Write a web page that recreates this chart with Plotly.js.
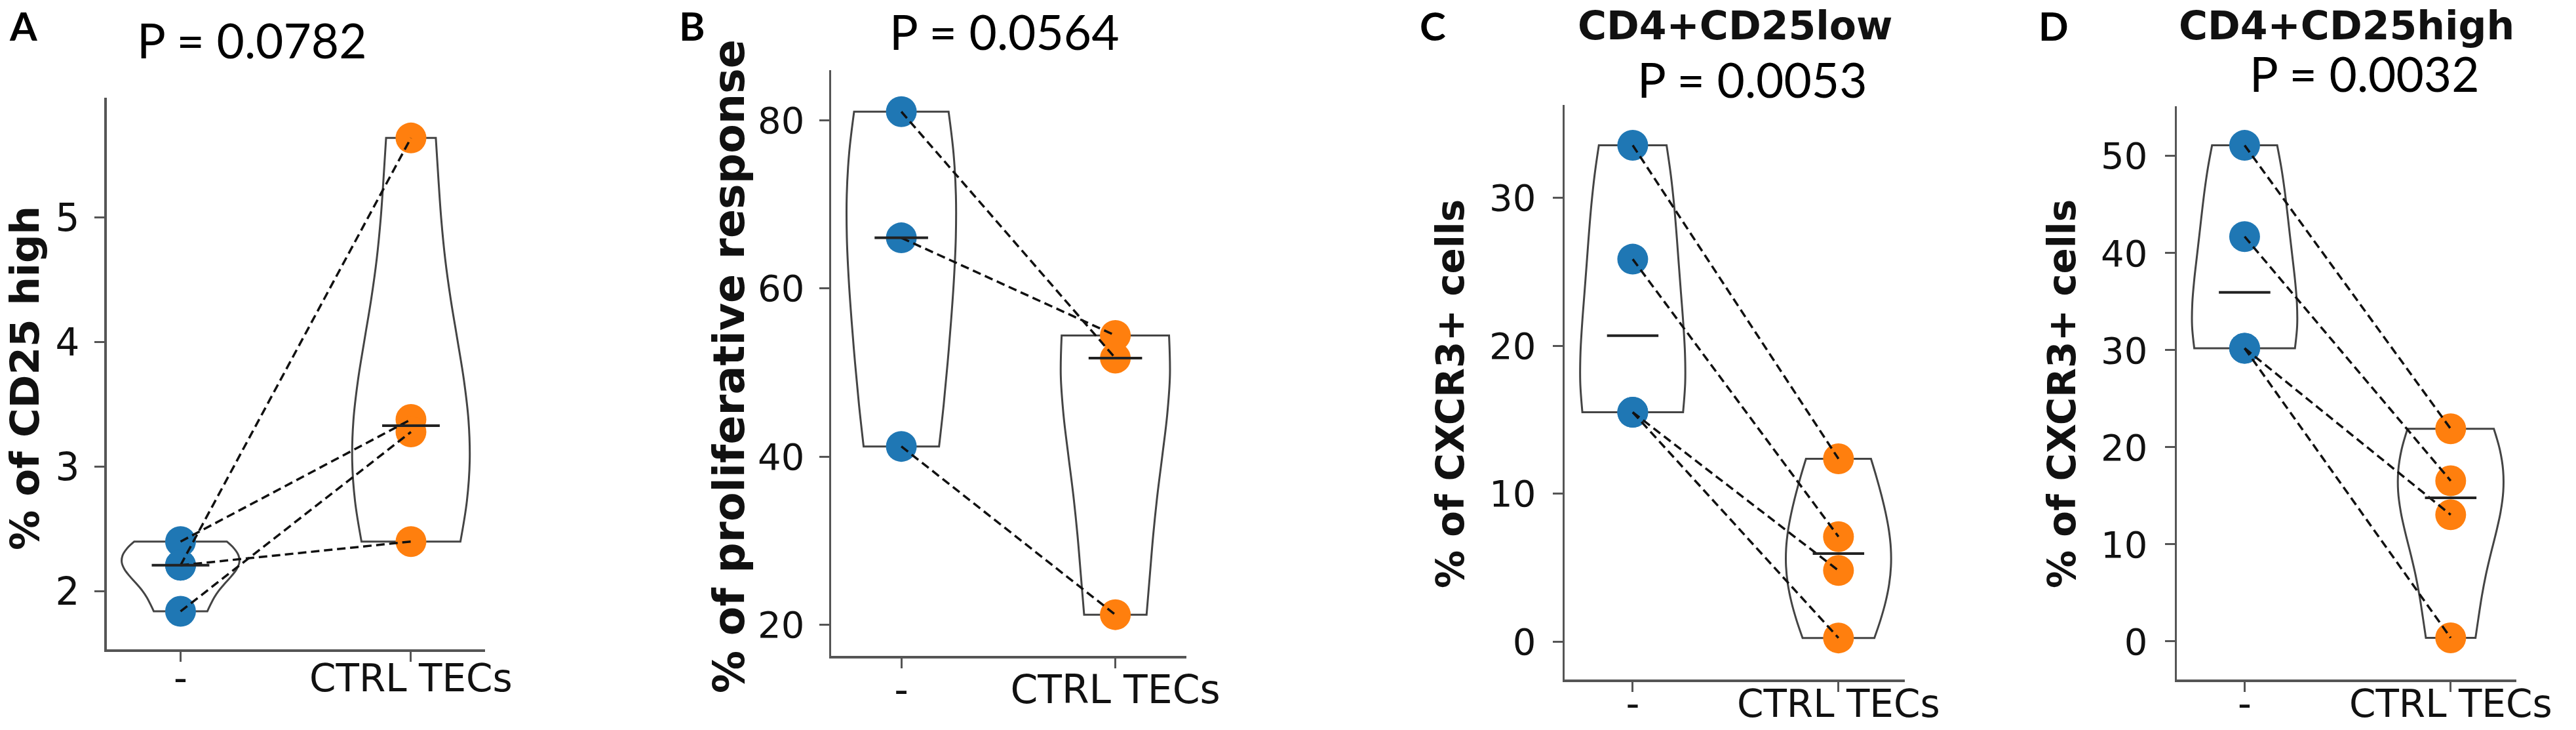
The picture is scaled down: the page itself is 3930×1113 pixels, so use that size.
<!DOCTYPE html>
<html>
<head>
<meta charset="utf-8">
<script src="https://cdn.plot.ly/plotly-3.0.1.min.js"></script>
<style>
html, body { margin: 0; padding: 0; background: #ffffff; }
#chart { width: 3930px; height: 1113px; }
</style>
</head>
<body>
<div id="chart"></div>
<script>
// ---------------- data ----------------
const categories = ["-", "CTRL TECs"];
const panelLetters = ["A", "B", "C", "D"];
const pValueLabels = ["P = 0.0782", "P = 0.0564", "P = 0.0053", "P = 0.0032"];
const subsetTitles = ["", "", "CD4+CD25low", "CD4+CD25high"];
const yAxisTitles = ["% of CD25 high", "% of proliferative response", "% of CXCR3+ cells", "% of CXCR3+ cells"];
const yTickSteps = [1, 20, 10, 10];

// paired values (index i of "-" is paired with index i of "CTRL TECs")
const noneA = [2.40, 2.21, 2.21, 1.84];
const tecsA = [3.38, 5.64, 2.40, 3.28];

const noneB = [81.0, 66.0, 41.2];
const tecsB = [51.7, 54.4, 21.2];

const noneC = [33.55, 25.85, 15.5, 15.5];
const tecsC = [12.35, 7.09, 4.8, 0.24];

const noneD = [51.1, 41.7, 30.2, 30.2];
const tecsD = [21.9, 16.55, 13.05, 0.37];

const panelsData = [[noneA, tecsA], [noneB, tecsB], [noneC, tecsC], [noneD, tecsD]];

// ---------------- style / layout ----------------
const W = 3930, H = 1113;
const boxes = [
  { l: 162.6, r: 739.8,  t: 149,   b: 990,  xr: [-0.321, 1.321], yr: [1.535, 5.963] },
  { l: 1268,  r: 1810,   t: 106.5, b: 1000, xr: [-0.328, 1.332], yr: [16.3, 85.97] },
  { l: 2387,  r: 2905.6, t: 159.7, b: 1036, xr: [-0.331, 1.321], yr: [-2.57, 36.29] },
  { l: 3321,  r: 3838.8, t: 161.8, b: 1036, xr: [-0.329, 1.318], yr: [-3.92, 55.14] }
];
const letterPos = [[35, 39], [1056, 39], [2186, 39], [3133, 39]];
const pPos = [[384, 61], [1532, 48], [2673, 121], [3607, 112]];
const subPos = [[0, 0], [0, 0], [2647, 39], [3580, 39]];
const yTitlePos = [[37, 577], [1112, 559], [2213, 601], [3146, 601]];
const yTitleSize = [61, 65, 58, 58];
const xTickSize = [58, 60, 58, 58];
const yTickSize = [58, 56, 56, 56];
const xLabelStandoff = [-24, -19, -31, -31];
const yLabelStandoff = [11, 11, 14, 15];

const BLUE = "#1f77b4", ORANGE = "#ff7f0e";
const groupColors = [BLUE, ORANGE];
const AXIS_COLOR = "#555555";

function scottBandwidth(arr) {
  const n = arr.length;
  const m = arr.reduce((a, b) => a + b, 0) / n;
  const v = arr.reduce((a, b) => a + (b - m) * (b - m), 0) / (n - 1);
  return Math.pow(n, -0.2) * Math.sqrt(v);
}
function median(arr) {
  const s = arr.slice().sort((a, b) => a - b);
  const k = Math.floor(s.length / 2);
  return s.length % 2 ? s[k] : (s[k - 1] + s[k]) / 2;
}

const traces = [];
const layout = {
  width: W, height: H,
  margin: { l: 0, r: 0, t: 0, b: 0 },
  paper_bgcolor: "#ffffff", plot_bgcolor: "#ffffff",
  showlegend: false,
  font: { family: "DejaVu Sans", color: "#111111" },
  annotations: []
};

panelsData.forEach((groups, i) => {
  const ax = i === 0 ? "" : String(i + 1);
  const xa = "x" + ax, ya = "y" + ax;
  const bx = boxes[i];

  // violins
  groups.forEach((vals, g) => {
    traces.push({
      type: "violin", x0: g, y: vals, xaxis: xa, yaxis: ya,
      width: 0.51, spanmode: "hard", bandwidth: scottBandwidth(vals),
      points: false, box: { visible: false }, meanline: { visible: false },
      line: { color: "#444444", width: 3 }, fillcolor: "rgba(255,255,255,0)",
      hoverinfo: "skip"
    });
  });
  // points
  groups.forEach((vals, g) => {
    traces.push({
      type: "scatter", mode: "markers", xaxis: xa, yaxis: ya,
      x: vals.map(() => g), y: vals,
      marker: { color: groupColors[g], size: 47, line: { width: 0 } },
      hoverinfo: "skip"
    });
  });
  // paired dashed lines
  const lx = [], ly = [];
  groups[0].forEach((v, k) => { lx.push(0, 1, null); ly.push(v, groups[1][k], null); });
  traces.push({
    type: "scatter", mode: "lines", xaxis: xa, yaxis: ya, x: lx, y: ly,
    line: { color: "#111111", width: 3.5, dash: "13px,7px" }, hoverinfo: "skip"
  });
  // median bars
  const mx = [], my = [];
  groups.forEach((vals, g) => { const m = median(vals); mx.push(g - 0.125, g + 0.125, null); my.push(m, m, null); });
  traces.push({
    type: "scatter", mode: "lines", xaxis: xa, yaxis: ya, x: mx, y: my,
    line: { color: "#222222", width: 4 }, hoverinfo: "skip"
  });

  const common = {
    showline: true, linecolor: AXIS_COLOR, linewidth: 3.5, mirror: false,
    showgrid: false, zeroline: false, ticks: "outside", ticklen: 15, tickwidth: 3,
    tickcolor: AXIS_COLOR, fixedrange: true
  };
  layout["xaxis" + ax] = Object.assign({}, common, {
    domain: [bx.l / W, bx.r / W], anchor: ya, range: bx.xr,
    tickmode: "array", tickvals: [0, 1], ticktext: categories,
    tickfont: { family: "DejaVu Sans", size: xTickSize[i], color: "#111111" },
    ticklabelstandoff: xLabelStandoff[i]
  });
  layout["yaxis" + ax] = Object.assign({}, common, {
    domain: [1 - bx.b / H, 1 - bx.t / H], anchor: xa, range: bx.yr,
    tickmode: "linear", dtick: yTickSteps[i], tick0: 0,
    tickfont: { family: "DejaVu Sans", size: yTickSize[i], color: "#111111" },
    ticklabelstandoff: yLabelStandoff[i]
  });

  // texts
  layout.annotations.push({
    xref: "paper", yref: "paper", x: letterPos[i][0] / W, y: 1 - letterPos[i][1] / H,
    xanchor: "center", yanchor: "middle", showarrow: false,
    text: "<b>" + panelLetters[i] + "</b>", font: { family: "Lato", size: 60, color: "#000000" }
  });
  layout.annotations.push({
    xref: "paper", yref: "paper", x: pPos[i][0] / W, y: 1 - pPos[i][1] / H,
    xanchor: "center", yanchor: "middle", showarrow: false,
    text: pValueLabels[i], font: { family: "Lato", size: 73, color: "#000000" }
  });
  if (subsetTitles[i]) {
    layout.annotations.push({
      xref: "paper", yref: "paper", x: subPos[i][0] / W, y: 1 - subPos[i][1] / H,
      xanchor: "center", yanchor: "middle", showarrow: false,
      text: "<b>" + subsetTitles[i] + "</b>", font: { family: "DejaVu Sans", size: 60, color: "#111111" }
    });
  }
  layout.annotations.push({
    xref: "paper", yref: "paper", x: yTitlePos[i][0] / W, y: 1 - yTitlePos[i][1] / H,
    xanchor: "center", yanchor: "middle", showarrow: false, textangle: -90,
    text: "<b>" + yAxisTitles[i] + "</b>", font: { family: "DejaVu Sans", size: yTitleSize[i], color: "#111111" }
  });
});

Plotly.newPlot("chart", traces, layout, { staticPlot: true, displayModeBar: false });
</script>
</body>
</html>
